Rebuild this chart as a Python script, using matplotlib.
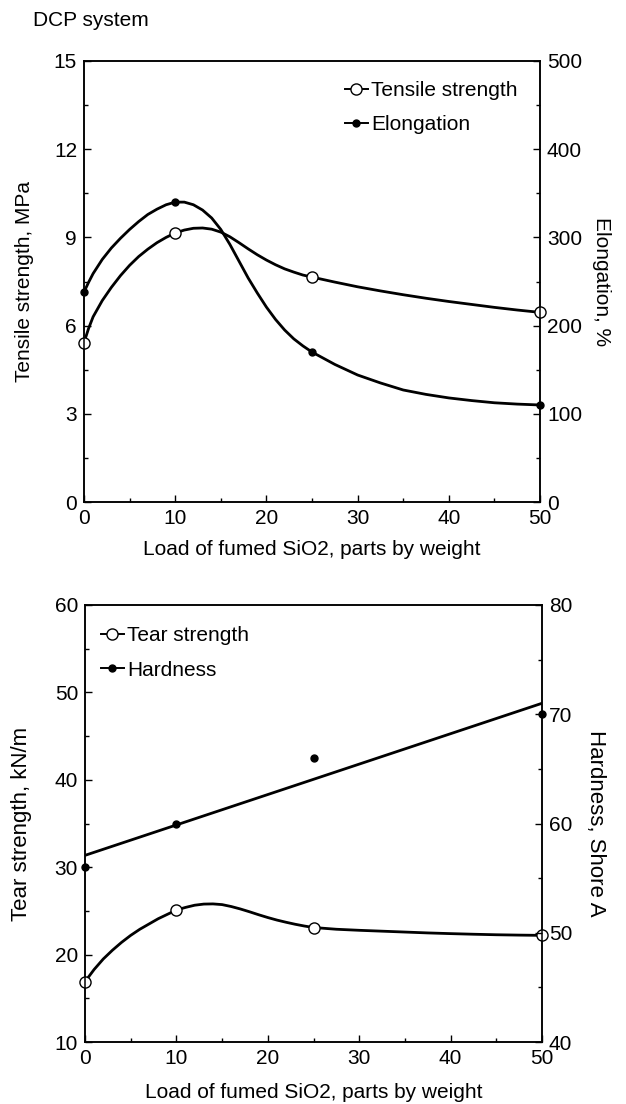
import numpy as np
import matplotlib
matplotlib.use('Agg')
import matplotlib.pyplot as plt
from matplotlib.lines import Line2D
from matplotlib.ticker import MultipleLocator

plt.rcParams['font.family'] = ['Liberation Sans', 'DejaVu Sans']

# Measured points
load = [0, 10, 25, 50]
tensile = [5.42, 9.15, 7.65, 6.45]      # MPa
elongation = [238, 340, 170, 110]       # %
tear = [16.9, 25.1, 23.1, 22.2]         # kN/m
hardness = [56, 60, 66, 70]             # Shore A

# Smooth curves
curve_x = [0, 0.5, 1, 2, 3, 4, 5, 6, 7, 8, 9, 10, 11, 12, 13, 14, 15, 16, 17, 18, 19,
           20, 21, 22, 23, 24, 25, 27.5, 30, 32.5, 35, 37.5, 40, 42.5, 45, 47.5, 50]
tensile_curve = [5.42, 5.9, 6.3, 6.85, 7.3, 7.7, 8.05, 8.35, 8.6, 8.82, 9.0, 9.15,
                 9.25, 9.31, 9.32, 9.28, 9.18, 9.02, 8.82, 8.61, 8.41, 8.23, 8.07, 7.93,
                 7.82, 7.72, 7.65, 7.48, 7.32, 7.18, 7.05, 6.93, 6.82, 6.72, 6.62, 6.53,
                 6.45]
elong_curve = [238, 249, 259, 275, 288, 299, 309, 318, 326, 332, 337, 340, 340, 337,
               331, 322, 309, 292, 273, 254, 237, 221, 207, 195, 185, 177, 170, 156,
               144, 135, 127, 122, 118, 115, 112.5, 111, 110]
tear_curve = [16.9, 17.6, 18.3, 19.5, 20.5, 21.4, 22.2, 22.9, 23.5, 24.1, 24.6, 25.1,
              25.4, 25.65, 25.78, 25.8, 25.72, 25.5, 25.22, 24.9, 24.56, 24.24, 23.95,
              23.7, 23.47, 23.27, 23.1, 22.9, 22.78, 22.68, 22.58, 22.48, 22.4, 22.33,
              22.27, 22.23, 22.2]

FS = 15
LW = 2.0

fig = plt.figure(figsize=(6.26, 11.04), dpi=100)
fig.text(33 / 626, 1 - 21 / 1104, 'DCP system', fontsize=15, va='center', ha='left')

def style(ax):
    for s in ax.spines.values():
        s.set_linewidth(1.1)
    ax.tick_params(which='both', direction='in', top=False, labelsize=FS, pad=5)
    ax.tick_params(which='major', length=5, width=1)
    ax.tick_params(which='minor', length=3, width=1)

def legend(ax, labels, anchor):
    handles = [Line2D([], [], color='black', lw=1.4, marker='o', ms=8, mfc='white', mec='black'),
               Line2D([], [], color='black', lw=1.4, marker='o', ms=5)]
    ax.legend(handles, labels, loc='upper left', bbox_to_anchor=anchor, frameon=False,
              fontsize=FS, handlelength=1.1, handletextpad=0.15, borderpad=0,
              borderaxespad=0, labelspacing=0.75)

# ---- top chart ----
ax1 = fig.add_axes([84 / 626, 1 - 502 / 1104, 456 / 626, 441 / 1104])
ax2 = ax1.twinx()
ax1.plot(curve_x, tensile_curve, color='black', lw=LW, solid_joinstyle='round')
ax1.plot(load, tensile, 'o', ms=8, mfc='white', mec='black', mew=1, clip_on=False, zorder=5)
ax2.plot(curve_x, elong_curve, color='black', lw=LW, solid_joinstyle='round')
ax2.plot(load, elongation, 'o', ms=5, color='black', clip_on=False, zorder=5)
ax1.set_xlim(0, 50)
ax1.set_ylim(0, 15)
ax2.set_ylim(0, 500)
ax1.xaxis.set_major_locator(MultipleLocator(10))
ax1.xaxis.set_minor_locator(MultipleLocator(5))
ax1.yaxis.set_major_locator(MultipleLocator(3))
ax1.yaxis.set_minor_locator(MultipleLocator(1.5))
ax2.yaxis.set_major_locator(MultipleLocator(100))
ax2.yaxis.set_minor_locator(MultipleLocator(50))
style(ax1)
style(ax2)
ax1.set_xlabel('Load of fumed SiO2, parts by weight', fontsize=FS, labelpad=9)
ax1.set_ylabel('Tensile strength, MPa', fontsize=FS)
ax2.set_ylabel('Elongation, %', fontsize=FS, rotation=270)
ax1.yaxis.set_label_coords(-0.11, 0.5)
ax2.yaxis.set_label_coords(1.155, 0.5)
legend(ax1, ['Tensile strength', 'Elongation'], (0.572, 0.955))

# ---- bottom chart ----
ax3 = fig.add_axes([85 / 626, 1 - 1042 / 1104, 457 / 626, 437 / 1104])
ax4 = ax3.twinx()
ax3.plot(curve_x, tear_curve, color='black', lw=LW, solid_joinstyle='round')
ax3.plot(load, tear, 'o', ms=8, mfc='white', mec='black', mew=1, clip_on=False, zorder=5)
fit = np.polyfit(load, hardness, 1)
ax4.plot([0, 50], np.polyval(fit, [0, 50]), color='black', lw=LW)
ax4.plot(load, hardness, 'o', ms=5, color='black', clip_on=False, zorder=5)
ax3.set_xlim(0, 50)
ax3.set_ylim(10, 60)
ax4.set_ylim(40, 80)
ax3.xaxis.set_major_locator(MultipleLocator(10))
ax3.xaxis.set_minor_locator(MultipleLocator(5))
ax3.yaxis.set_major_locator(MultipleLocator(10))
ax3.yaxis.set_minor_locator(MultipleLocator(5))
ax4.yaxis.set_major_locator(MultipleLocator(10))
ax4.yaxis.set_minor_locator(MultipleLocator(5))
style(ax3)
style(ax4)
ax3.set_xlabel('Load of fumed SiO2, parts by weight', fontsize=FS, labelpad=11)
ax3.set_ylabel('Tear strength, kN/m', fontsize=FS + 1)
ax4.set_ylabel('Hardness, Shore A', fontsize=FS + 1, rotation=270)
ax3.yaxis.set_label_coords(-0.115, 0.5)
ax4.yaxis.set_label_coords(1.14, 0.5)
legend(ax3, ['Tear strength', 'Hardness'], (0.035, 0.952))

fig.savefig('out.png', dpi=100)
